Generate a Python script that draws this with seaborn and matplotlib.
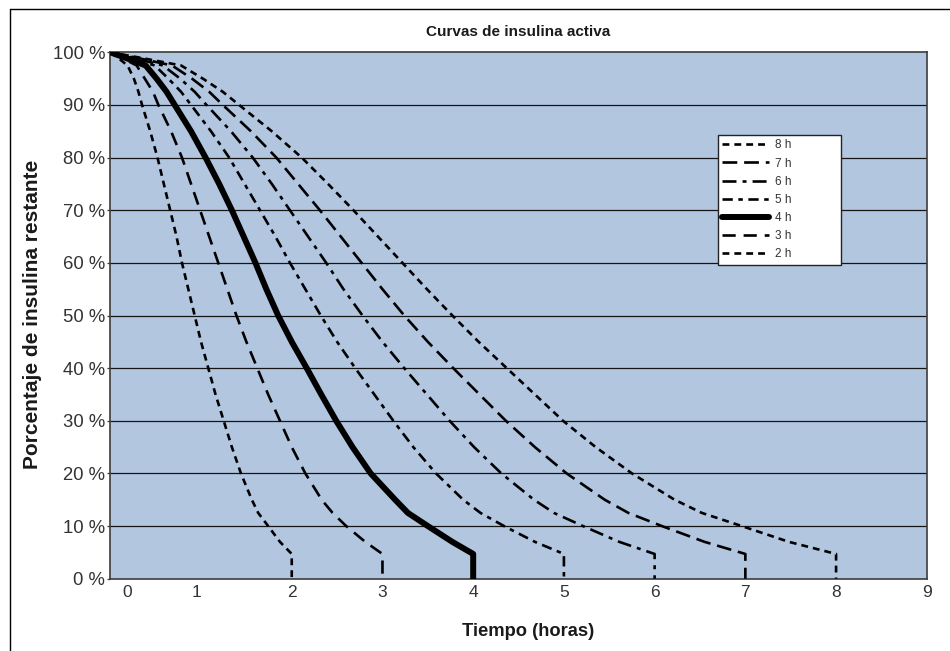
import matplotlib
matplotlib.use("Agg")
import matplotlib.pyplot as plt
import matplotlib.transforms as mtransforms
from matplotlib.lines import Line2D
import seaborn as sns
import pandas as pd

# ---------------- data ----------------
pct = [100, 99, 97.5, 95, 92.5, 90, 85, 80, 75, 70, 65, 60, 55, 50, 45, 40,
       35, 30, 25, 20, 15, 12.5, 10, 7, 4.7, 0]

t_2h = [0, .08, .19, .26, .31, .35, .44, .52, .59, .66, .73, .79, .86, .93, 1.0, 1.08,
        1.16, 1.25, 1.34, 1.44, 1.56, 1.63, 1.74, 1.87, 2.0, 2.0]
t_3h = [0, .12, .29, .38, .47, .53, .67, .79, .89, .99, 1.09, 1.19, 1.29, 1.39, 1.50, 1.62,
        1.74, 1.87, 2.0, 2.15, 2.33, 2.45, 2.60, 2.81, 3.0, 3.0]
t_4h = [0, .16, .39, .51, .62, .71, .89, 1.05, 1.20, 1.34, 1.47, 1.60, 1.72, 1.85, 2.0, 2.165,
        2.325, 2.49, 2.67, 2.87, 3.14, 3.28, 3.50, 3.77, 4.0, 4.0]
t_5h = [0, .20, .49, .64, .78, .89, 1.11, 1.31, 1.48, 1.65, 1.82, 1.98, 2.15, 2.32, 2.50, 2.70,
        2.91, 3.12, 3.34, 3.59, 3.89, 4.08, 4.34, 4.68, 5.0, 5.0]
t_6h = [0, .24, .58, .77, .93, 1.06, 1.33, 1.57, 1.78, 1.98, 2.18, 2.38, 2.57, 2.78, 3.0, 3.24,
        3.49, 3.74, 4.01, 4.31, 4.67, 4.89, 5.21, 5.61, 6.0, 6.0]
t_7h = [0, .28, .68, .90, 1.09, 1.24, 1.55, 1.83, 2.07, 2.31, 2.54, 2.77, 3.00, 3.24, 3.50, 3.78,
        4.07, 4.36, 4.68, 5.03, 5.45, 5.71, 6.08, 6.55, 7.0, 7.0]
t_8h = [0, .32, .78, 1.02, 1.24, 1.42, 1.78, 2.11, 2.40, 2.68, 2.95, 3.22, 3.49, 3.77, 4.06, 4.37,
        4.68, 4.99, 5.35, 5.75, 6.22, 6.52, 6.96, 7.48, 8.0, 8.0]

series_names = ["2 h", "3 h", "4 h", "5 h", "6 h", "7 h", "8 h"]
series_times = [t_2h, t_3h, t_4h, t_5h, t_6h, t_7h, t_8h]
legend_order = ["8 h", "7 h", "6 h", "5 h", "4 h", "3 h", "2 h"]

x_ticks = [0, 1, 2, 3, 4, 5, 6, 7, 8, 9]
y_ticks = [0, 10, 20, 30, 40, 50, 60, 70, 80, 90, 100]
y_tick_labels = ["0 %", "10 %", "20 %", "30 %", "40 %", "50 %", "60 %", "70 %", "80 %", "90 %", "100 %"]

title = "Curvas de insulina activa"
x_label = "Tiempo (horas)"
y_label = "Porcentaje de insulina restante"

# ---------------- styles ----------------
LW = 1.9
styles = {
    "2 h": dict(lw=LW, ls=(0, (2.6, 1.9))),
    "3 h": dict(lw=LW, ls=(0, (5.0, 3.0))),
    "4 h": dict(lw=4.3, ls="-"),
    "5 h": dict(lw=LW, ls=(0, (3.9, 2.1, 1.7, 2.1))),
    "6 h": dict(lw=LW, ls=(0, (5.3, 2.3, 1.5, 2.3))),
    "7 h": dict(lw=LW, ls=(0, (5.6, 2.6))),
    "8 h": dict(lw=LW, ls=(0, (2.6, 1.9))),
}

sns.set_theme(style="white")
plt.rcParams["font.family"] = ["Liberation Sans", "DejaVu Sans"]

W, H = 950, 651
fig = plt.figure(figsize=(W / 100, H / 100), dpi=100)
ax = fig.add_axes([110.3 / W, 1 - 578.7 / H, 816.5 / W, 526.4 / H])
ax.set_facecolor("#b2c6e0")

for name, times in zip(series_names, series_times):
    df = pd.DataFrame({"t": times, "pct": pct})
    st = styles[name]
    sns.lineplot(data=df, x="t", y="pct", estimator=None, sort=False, ax=ax,
                 color="black", linewidth=st["lw"], linestyle=st["ls"],
                 label=name, legend=False, zorder=3)

ax.set_xlim(0, 9)
ax.set_ylim(0, 100)
ax.set_yticks(y_ticks)
ax.set_yticklabels(y_tick_labels)
ax.set_xticks(x_ticks)
ax.set_xticklabels([str(v) for v in x_ticks])

ax.grid(False)
for v in y_ticks[1:-1]:
    ax.axhline(v, color="#151515", lw=0.9, zorder=1)

for sp in ax.spines.values():
    sp.set_color("#3c3c3c")
    sp.set_linewidth(1.2)
    sp.set_visible(True)

ax.tick_params(axis="y", which="major", length=2.4, width=0.9, color="#3c3c3c",
               pad=1.3, labelsize=13.3, labelcolor="#333333", left=True)
ax.tick_params(axis="x", which="major", length=0, pad=4.5, labelsize=12.5,
               labelcolor="#333333", bottom=True)

# label placement quirks of the original (0 and 1 labels offset)
offs = {0: 16.4, 1: -4.3}
for i, lab in enumerate(ax.get_xticklabels()):
    if i in offs:
        lab.set_transform(lab.get_transform() +
                          mtransforms.ScaledTranslation(offs[i] / 100, 0, fig.dpi_scale_trans))

ax.set_xlabel(x_label, fontsize=13.2, fontweight="bold", color="#1a1a1a")
ax.xaxis.label.set_va("center")
ax.xaxis.set_label_coords((528 - 110.3) / 816.5, (578.7 - 632) / 526.4)
ax.set_ylabel(y_label, fontsize=15, fontweight="bold", color="#1a1a1a")
ax.yaxis.label.set_va("center")
ax.yaxis.set_label_coords((33 - 110.3) / 816.5, (578.7 - 314) / 526.4)

fig.text(518.5 / W, 1 - 32 / H, title, ha="center", va="center",
         fontsize=11, fontweight="bold", color="#1a1a1a")

handles, labels = ax.get_legend_handles_labels()
order = [labels.index(n) for n in legend_order]
leg = ax.legend([handles[i] for i in order], [labels[i] for i in order],
                loc="upper left", bbox_to_anchor=(0.744, 0.602, 0.151, 0.241),
                mode="expand", borderaxespad=0, fontsize=8.5, frameon=True,
                fancybox=False, handlelength=4.0, handletextpad=0.45,
                labelspacing=0.52, borderpad=0.38, labelcolor="#333333")
leg.get_frame().set_edgecolor("#222222")
leg.get_frame().set_linewidth(1.0)
leg.get_frame().set_facecolor("white")
leg.get_frame().set_alpha(1)
leg.set_zorder(5)

# figure frame (left and top edges visible)
fig.add_artist(Line2D([9.5 / W, 9.5 / W], [0, 1 - 8.5 / H], transform=fig.transFigure,
                      color="black", lw=1.0))
fig.add_artist(Line2D([9.5 / W, 1], [1 - 8.5 / H, 1 - 8.5 / H], transform=fig.transFigure,
                      color="black", lw=1.0))

fig.savefig("out.png", dpi=100)
